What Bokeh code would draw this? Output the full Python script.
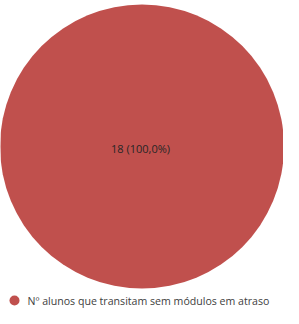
import math
from bokeh.plotting import figure
from bokeh.models import Range1d, ColumnDataSource
from bokeh.core.properties import value
from bokeh.embed import file_html
from bokeh.resources import INLINE

categories = ["Nº alunos que transitam sem módulos em atraso"]
counts = [18]
colors = ["#C0504D"]

total = sum(counts)
starts, ends, labels = [], [], []
acc = 0.0
for c in counts:
    a0 = acc / total * 2 * math.pi
    acc += c
    a1 = acc / total * 2 * math.pi
    starts.append(a0)
    ends.append(a1)
    labels.append(f"{c} ({c / total * 100:.1f}%)".replace(".", ","))

W, H = 283, 308
p = figure(width=W, height=H, output_backend="svg", toolbar_location=None,
           x_range=Range1d(0, W), y_range=Range1d(H, 0), min_border=0)
p.axis.visible = False
p.grid.visible = False
p.outline_line_color = None
p.background_fill_color = "white"
p.border_fill_color = "white"

cx, cy, r = 141.5, 146, 142
src = ColumnDataSource(dict(x=[cx] * len(counts), y=[cy] * len(counts),
                            start=starts, end=ends, color=colors, label=labels))
if len(counts) == 1:
    p.circle(x="x", y="y", radius=r, fill_color="color", line_color=None, source=src)
else:
    p.wedge(x="x", y="y", radius=r, start_angle="start", end_angle="end",
            fill_color="color", line_color=None, source=src)

p.text(x=[cx - 1.5], y=[cy + 1.5], text=labels, text_font=value("Open Sans"),
       text_font_size="11px", text_color="#262626", text_align="center",
       text_baseline="middle")

# legend
p.scatter(x=[14], y=[300], size=10, marker="circle", fill_color=colors[0], line_color=None)
p.text(x=[27], y=[300], text=[categories[0]], text_font=value("Open Sans"),
       text_font_size="10.6px", text_color="#404040", text_align="left",
       text_baseline="middle")

open("out.html", "w").write(file_html(p, INLINE))
